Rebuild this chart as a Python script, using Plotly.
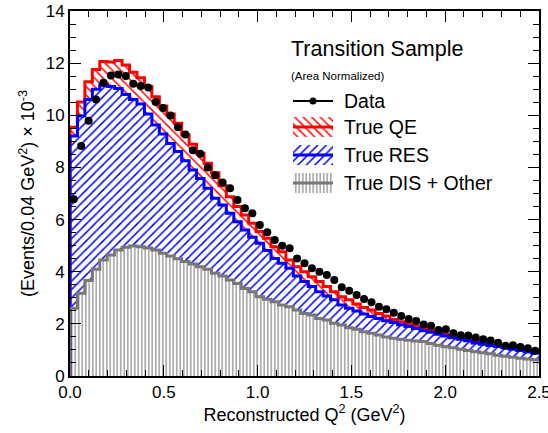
import numpy as np
import plotly.graph_objects as go

# ---------------- data (values x 10^-3 per bin) ----------------
n_bins = 63
q2_min, q2_max = 0.0, 2.5

data_vals = [6.78, 8.82, 9.79, 10.61, 11.25, 11.53, 11.56, 11.51, 11.21, 11.12,
             11.07, 10.51, 10.28, 9.99, 9.54, 9.26, 8.66, 8.52, 8.00, 7.70,
             7.42, 7.20, 6.75, 6.43, 6.24, 5.79, 5.51, 5.22, 5.00, 4.90,
             4.51, 4.32, 4.13, 4.00, 3.87, 3.68, 3.40, 3.27, 3.11, 2.95,
             2.83, 2.66, 2.56, 2.43, 2.30, 2.19, 2.11, 1.98, 1.93, 1.76,
             1.79, 1.64, 1.56, 1.55, 1.48, 1.41, 1.36, 1.28, 1.16, 1.18,
             1.11, 1.06, 0.97]

# stacked MC levels: QE+RES+DIS (top of red), RES+DIS (top of blue), DIS+Other (grey)
stack_qe_res_dis = [9.54, 10.51, 11.29, 11.76, 12.06, 12.04, 12.10, 11.93, 11.65, 11.44,
                    11.10, 10.71, 10.36, 10.05, 9.69, 9.24, 8.89, 8.54, 8.16, 7.80,
                    7.30, 6.88, 6.50, 6.18, 5.86, 5.54, 5.28, 4.96, 4.77, 4.45,
                    4.19, 4.00, 3.81, 3.62, 3.43, 3.23, 3.04, 2.92, 2.76, 2.63,
                    2.53, 2.40, 2.30, 2.17, 2.08, 2.00, 1.92, 1.83, 1.76, 1.68,
                    1.59, 1.53, 1.47, 1.41, 1.33, 1.28, 1.24, 1.19, 1.13, 1.10,
                    1.04, 0.99, 0.94]

stack_res_dis = [9.21, 9.97, 10.61, 11.00, 11.16, 11.10, 11.03, 10.80, 10.61, 10.43,
                 10.05, 9.63, 9.28, 8.92, 8.61, 8.26, 7.90, 7.58, 7.20, 6.82,
                 6.56, 6.24, 5.92, 5.60, 5.32, 5.09, 4.81, 4.51, 4.32, 4.13,
                 3.84, 3.62, 3.43, 3.23, 3.07, 2.92, 2.72, 2.60, 2.49, 2.38,
                 2.28, 2.21, 2.12, 2.05, 1.97, 1.90, 1.82, 1.74, 1.68, 1.60,
                 1.53, 1.47, 1.41, 1.35, 1.27, 1.22, 1.17, 1.13, 1.08, 1.03,
                 0.98, 0.92, 0.87]

stack_dis = [2.60, 3.17, 3.66, 4.09, 4.45, 4.64, 4.83, 4.94, 4.99, 4.96,
             4.91, 4.83, 4.71, 4.60, 4.50, 4.39, 4.30, 4.19, 4.09, 3.94,
             3.84, 3.68, 3.55, 3.36, 3.23, 3.04, 2.94, 2.85, 2.72, 2.66,
             2.53, 2.40, 2.34, 2.21, 2.15, 2.02, 1.96, 1.85, 1.79, 1.70,
             1.64, 1.57, 1.50, 1.45, 1.41, 1.37, 1.34, 1.32, 1.25, 1.18,
             1.12, 1.08, 1.03, 0.98, 0.93, 0.89, 0.85, 0.80, 0.76, 0.72,
             0.68, 0.65, 0.62]

x_ticks = [0.0, 0.5, 1.0, 1.5, 2.0, 2.5]
x_ticklabels = ["0.0", "0.5", "1.0", "1.5", "2.0", "2.5"]
y_ticks = [0, 2, 4, 6, 8, 10, 12, 14]

legend_title = "Transition Sample"
legend_sub = "(Area Normalized)"
legend_labels = ["Data", "True QE", "True RES", "True DIS + Other"]

x_title = "Reconstructed Q<sup>2</sup> (GeV<sup>2</sup>)"
y_title = "(Events/0.04 GeV<sup>2</sup>) × 10<sup>-3</sup>"

# ---------------- geometry helpers ----------------
edges = np.linspace(q2_min, q2_max, n_bins + 1)
centers = 0.5 * (edges[:-1] + edges[1:])
width = (q2_max - q2_min) / n_bins

FONT = "Liberation Sans, Arial, Helvetica, sans-serif"
RED = "#ff0000"
BLUE = "#0000ff"
GREY = "#777777"
GREY_HATCH = "#8a8a8a"

fig = go.Figure()


def hatched_bar(vals, fg, shape, size, solidity, xaxis="x", yaxis="y", x=None, w=None, base=None):
    return go.Bar(
        x=centers if x is None else x,
        y=vals,
        base=base,
        width=width if w is None else w,
        marker=dict(color="white", line=dict(width=0),
                    pattern=dict(shape=shape, fgcolor=fg, bgcolor="white",
                                 size=size, solidity=solidity, fillmode="replace")),
        showlegend=False, hoverinfo="skip", xaxis=xaxis, yaxis=yaxis,
    )


def step_line(vals, color, lw):
    xs = [edges[0]] + list(edges)
    ys = [0] + list(vals) + [vals[-1]]
    return go.Scatter(x=xs, y=ys, mode="lines", line=dict(color=color, width=lw, shape="hv"),
                      showlegend=False, hoverinfo="skip", cliponaxis=True)


# stacked histograms (drawn as overlaid cumulative levels)
fig.add_trace(hatched_bar(stack_qe_res_dis, RED, "\\", 6, 0.25))
fig.add_trace(hatched_bar(stack_res_dis, BLUE, "/", 6, 0.25))
fig.add_trace(hatched_bar(stack_dis, GREY_HATCH, "|", 3.5, 0.35))
fig.add_trace(step_line(stack_qe_res_dis, RED, 3))
fig.add_trace(step_line(stack_res_dis, BLUE, 3))
fig.add_trace(step_line(stack_dis, GREY, 3))

# data points
fig.add_trace(go.Scatter(x=centers, y=data_vals, mode="markers",
                         marker=dict(color="black", size=8), showlegend=False,
                         hoverinfo="skip"))

# ---------------- custom ROOT-style legend on an overlay axis (pixel units) ----------------
PW, PH = 469, 365  # plot area in px
sym_x0, sym_x1 = 223, 263
sym_xc = 0.5 * (sym_x0 + sym_x1)
txt_x = 272
rows_y = [90, 116, 144, 172]
box_h = 20

# Data symbol
fig.add_trace(go.Scatter(x=[sym_x0, sym_x1], y=[rows_y[0], rows_y[0]], mode="lines",
                         line=dict(color="black", width=2), xaxis="x2", yaxis="y2",
                         showlegend=False, hoverinfo="skip"))
fig.add_trace(go.Scatter(x=[sym_xc], y=[rows_y[0]], mode="markers",
                         marker=dict(color="black", size=7), xaxis="x2", yaxis="y2",
                         showlegend=False, hoverinfo="skip"))
for yy, col, shp, sz, sol, hcol in [(rows_y[1], RED, "\\", 6, 0.25, RED),
                                    (rows_y[2], BLUE, "/", 6, 0.25, BLUE),
                                    (rows_y[3], GREY, "|", 3.5, 0.35, GREY_HATCH)]:
    fig.add_trace(hatched_bar([box_h], hcol, shp, sz, sol, xaxis="x2", yaxis="y2",
                              x=[sym_xc], w=[sym_x1 - sym_x0], base=[yy - box_h / 2]))
    fig.add_trace(go.Scatter(x=[sym_x0, sym_x1], y=[yy, yy], mode="lines",
                             line=dict(color=col, width=3), xaxis="x2", yaxis="y2",
                             showlegend=False, hoverinfo="skip"))

annotations = [
    dict(x=219, y=38, text=legend_title, font=dict(size=21.5, family=FONT, color="black")),
    dict(x=219, y=65, text=legend_sub, font=dict(size=11.5, family=FONT, color="black")),
]
for yy, lab in zip(rows_y, legend_labels):
    annotations.append(dict(x=txt_x, y=yy, text=lab, font=dict(size=19.5, family=FONT, color="black")))
for a in annotations:
    a.update(xref="x2", yref="y2", xanchor="left", yanchor="middle", showarrow=False)

axis_common = dict(
    showline=True, linecolor="black", linewidth=2, mirror="allticks",
    ticks="inside", ticklen=11, tickwidth=1.2, tickcolor="black",
    showgrid=False, zeroline=False, automargin=False, ticklabeloverflow="allow",
    tickfont=dict(size=17, family=FONT, color="black"),
)

fig.update_layout(
    width=548, height=433,
    margin=dict(l=70, r=9, t=11, b=57),
    paper_bgcolor="white", plot_bgcolor="white",
    barmode="overlay", bargap=0,
    showlegend=False,
    font=dict(family=FONT, color="black"),
    xaxis=dict(range=[q2_min, q2_max], tickmode="array", tickvals=x_ticks, ticktext=x_ticklabels,
               minor=dict(ticks="inside", tickmode="linear", tick0=0, dtick=0.1, ticklen=6, tickcolor="black"),
               title=dict(text=x_title, font=dict(size=18, family=FONT), standoff=4),
               **axis_common),
    yaxis=dict(range=[0, 14], tickmode="array", tickvals=y_ticks,
               minor=dict(ticks="inside", tickmode="linear", tick0=0, dtick=0.5, ticklen=6, tickcolor="black"),
               title=dict(text=y_title, font=dict(size=18, family=FONT), standoff=6),
               **axis_common),
    xaxis2=dict(overlaying="x", range=[0, PW], visible=False, fixedrange=True),
    yaxis2=dict(overlaying="y", range=[PH, 0], visible=False, fixedrange=True),
    annotations=annotations,
)

fig.write_html("out.html", config={"displayModeBar": False},
               post_script="document.body.style.margin='0';document.body.style.padding='0';")
